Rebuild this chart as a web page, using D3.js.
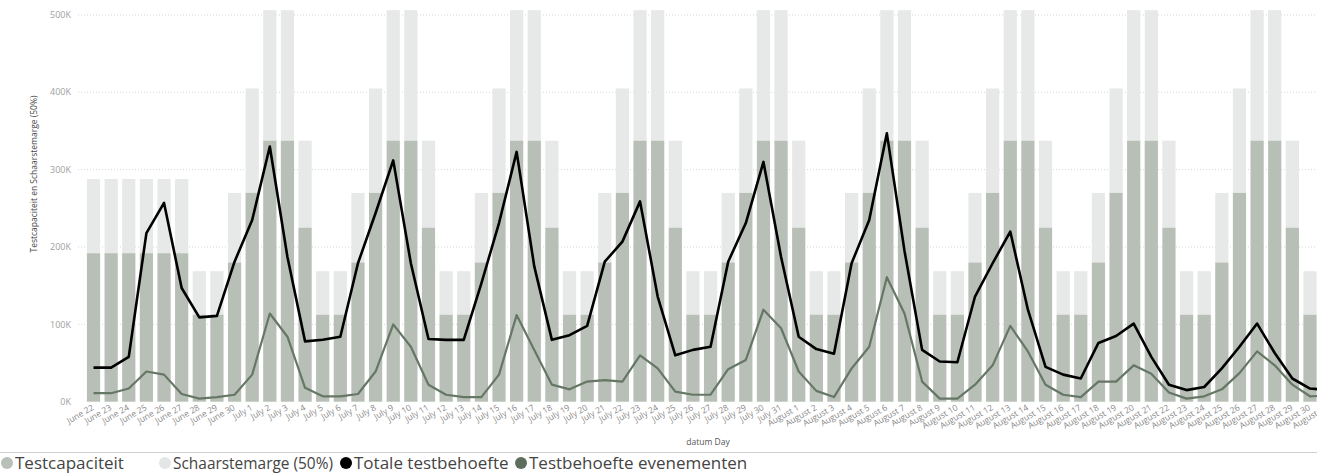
<!DOCTYPE html>
<html>
<head>
<meta charset="utf-8">
<script src="https://cdn.jsdelivr.net/npm/d3@7"></script>
<style>
  body { margin: 0; background: #fff; }
  svg { display: block; font-family: "Open Sans", sans-serif; }
</style>
</head>
<body>
<div id="chart"></div>
<script>
var days = [
    "June 22", "June 23", "June 24", "June 25", "June 26", "June 27", "June 28", "June 29", "June 30",
    "July 1", "July 2", "July 3", "July 4", "July 5", "July 6", "July 7", "July 8", "July 9", "July 10",
    "July 11", "July 12", "July 13", "July 14", "July 15", "July 16", "July 17", "July 18", "July 19",
    "July 20", "July 21", "July 22", "July 23", "July 24", "July 25", "July 26", "July 27", "July 28",
    "July 29", "July 30", "July 31",
    "August 1", "August 2", "August 3", "August 4", "August 5", "August 6", "August 7", "August 8",
    "August 9", "August 10", "August 11", "August 12", "August 13", "August 14", "August 15",
    "August 16", "August 17", "August 18", "August 19", "August 20", "August 21", "August 22",
    "August 23", "August 24", "August 25", "August 26", "August 27", "August 28", "August 29",
    "August 30", "August 31"
];

// values in thousands
var testcapaciteit = [
    192, 192, 192, 192, 192, 192,
    112.5, 112.5, 180, 270, 337.5, 337.5, 225,
    112.5, 112.5, 180, 270, 337.5, 337.5, 225,
    112.5, 112.5, 180, 270, 337.5, 337.5, 225,
    112.5, 112.5, 180, 270, 337.5, 337.5, 225,
    112.5, 112.5, 180, 270, 337.5, 337.5, 225,
    112.5, 112.5, 180, 270, 337.5, 337.5, 225,
    112.5, 112.5, 180, 270, 337.5, 337.5, 225,
    112.5, 112.5, 180, 270, 337.5, 337.5, 225,
    112.5, 112.5, 180, 270, 337.5, 337.5, 225,
    112.5, 112.5
];

var schaarstemarge = [
    96, 96, 96, 96, 96, 96,
    56.25, 56.25, 90, 135, 168.75, 168.75, 112.5,
    56.25, 56.25, 90, 135, 168.75, 168.75, 112.5,
    56.25, 56.25, 90, 135, 168.75, 168.75, 112.5,
    56.25, 56.25, 90, 135, 168.75, 168.75, 112.5,
    56.25, 56.25, 90, 135, 168.75, 168.75, 112.5,
    56.25, 56.25, 90, 135, 168.75, 168.75, 112.5,
    56.25, 56.25, 90, 135, 168.75, 168.75, 112.5,
    56.25, 56.25, 90, 135, 168.75, 168.75, 112.5,
    56.25, 56.25, 90, 135, 168.75, 168.75, 112.5,
    56.25, 56.25
];

var totaleTestbehoefte = [
    44, 44, 58, 218, 257, 147, 109, 111, 181, 235,
    330, 187, 78, 80, 84, 179, 244, 312, 179, 81,
    80, 80, 153, 231, 323, 175, 80, 86, 98, 181,
    207, 259, 136, 60, 67, 71, 181, 231, 310, 187,
    84, 68, 62, 179, 235, 347, 195, 67, 52, 51,
    136, 179, 220, 119, 45, 35, 30, 76, 85, 101,
    58, 22, 15, 19, 43, 71, 101, 63, 30, 17, 15
];

var testbehoefteEvenementen = [
    11, 11, 17, 39, 35, 10, 4, 6, 9, 35,
    114, 84, 18, 7, 7, 10, 39, 100, 71, 22,
    9, 6, 6, 35, 112, 67, 22, 16, 26, 28,
    26, 60, 43, 13, 9, 9, 42, 54, 119, 95,
    39, 14, 6, 43, 71, 161, 114, 26, 4, 4,
    22, 47, 98, 65, 22, 9, 6, 26, 26, 47,
    36, 12, 4, 7, 16, 37, 65, 47, 22, 7, 8
];

var yTicks = [0, 100, 200, 300, 400, 500];

var legendNames = ["Testcapaciteit", "Schaarstemarge (50%)", "Totale testbehoefte", "Testbehoefte evenementen"];
var legendColors = ["#b8c0b8", "#e4e6e5", "#000000", "#5d6e5d"];
var legendX = [7, 165, 346, 521];

var width = 1317,
    height = 473,
    plotLeft = 84.7,
    step = 17.63,
    plotTop = 15,
    plotBottom = 401.7;

var svg = d3.select("#chart")
    .append("svg")
        .attr("width", width)
        .attr("height", height)

var x = d3.scaleBand()
    .domain(days)
    .range([plotLeft, plotLeft + days.length * step])
    .paddingInner(0.25)
    .paddingOuter(0.125);

var y = d3.scaleLinear()
    .domain([0, 500])
    .range([plotBottom, plotTop]);

// grid
svg.append("g")
    .selectAll("line")
    .data(yTicks.slice(1))
    .join("line")
        .attr("x1", 78)
        .attr("x2", width)
        .attr("y1", d => y(d))
        .attr("y2", d => y(d))
        .attr("stroke", "#d6d6d6")
        .attr("stroke-width", 1)
        .attr("stroke-dasharray", "1,2")

svg.append("g")
    .attr("font-size", 9)
    .attr("fill", "#a0a0a0")
    .attr("text-anchor", "end")
    .selectAll("text")
    .data(yTicks)
    .join("text")
        .attr("x", 71)
        .attr("y", d => y(d))
        .attr("dy", "0.35em")
        .text(d => d + "K")

svg.append("text")
    .attr("transform", "translate(37,174) rotate(-90)")
    .attr("text-anchor", "middle")
    .attr("font-size", 8.5)
    .attr("fill", "#444")
    .text("Testcapaciteit en Schaarstemarge (50%)")

// stacked bars
var bars = svg.append("g")
    .selectAll("g")
    .data(days)
    .join("g")

bars.append("rect")
    .attr("x", d => x(d))
    .attr("width", x.bandwidth())
    .attr("y", (d, i) => y(testcapaciteit[i] + schaarstemarge[i]))
    .attr("height", (d, i) => y(testcapaciteit[i]) - y(testcapaciteit[i] + schaarstemarge[i]))
    .attr("fill", "#e7e9e8")

bars.append("rect")
    .attr("x", d => x(d))
    .attr("width", x.bandwidth())
    .attr("y", (d, i) => y(testcapaciteit[i]))
    .attr("height", (d, i) => y(0) - y(testcapaciteit[i]))
    .attr("fill", "#b7bfb6")

// lines
var line = d3.line()
    .x((d, i) => x(days[i]) + x.bandwidth() / 2)
    .y(d => y(d));

svg.append("path")
    .datum(testbehoefteEvenementen)
    .attr("fill", "none")
    .attr("stroke", "#667766")
    .attr("stroke-width", 2.2)
    .attr("stroke-linejoin", "round")
    .attr("d", line)

svg.append("path")
    .datum(totaleTestbehoefte)
    .attr("fill", "none")
    .attr("stroke", "#000")
    .attr("stroke-width", 2.6)
    .attr("stroke-linejoin", "round")
    .attr("d", line)

// x labels
svg.append("g")
    .attr("font-size", 8.5)
    .attr("fill", "#8a8a8a")
    .attr("text-anchor", "end")
    .selectAll("text")
    .data(days)
    .join("text")
        .attr("transform", d => "translate(" + (x(d) + x.bandwidth() / 2 - 2) + "," + 404 + ") rotate(-30)")
        .attr("dy", "0.71em")
        .text(d => d)

svg.append("text")
    .attr("x", 708)
    .attr("y", 445)
    .attr("text-anchor", "middle")
    .attr("font-size", 8.5)
    .attr("fill", "#555")
    .text("datum Day")

svg.append("line")
    .attr("x1", 0)
    .attr("x2", width)
    .attr("y1", 452.5)
    .attr("y2", 452.5)
    .attr("stroke", "#cfcfcf")
    .attr("stroke-width", 1)

// legend
var legend = svg.append("g")
    .selectAll("g")
    .data(legendNames)
    .join("g")
        .attr("transform", (d, i) => "translate(" + legendX[i] + ",463)")

legend.append("circle")
    .attr("r", 6)
    .attr("fill", (d, i) => legendColors[i])

legend.append("text")
    .attr("x", 8)
    .attr("dy", "0.35em")
    .attr("font-size", 17)
    .attr("fill", "#444")
    .attr("textLength", (d, i) => i == 1 ? 160 : null)
    .attr("lengthAdjust", "spacingAndGlyphs")
    .text(d => d)
</script>
</body>
</html>
